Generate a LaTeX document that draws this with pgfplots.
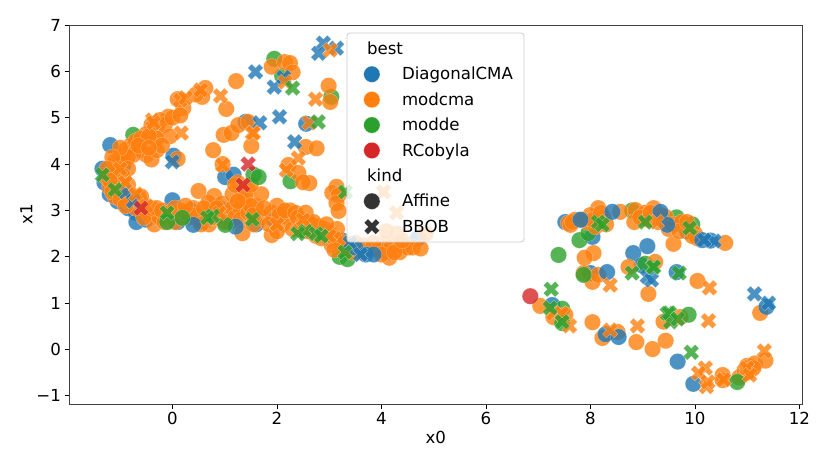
\documentclass[border=0pt]{standalone}
\usepackage{fontspec}
\setmainfont{DejaVu Sans}
\usepackage{pgfplots}
\pgfplotsset{compat=1.18}
\definecolor{tblue}{RGB}{31,119,180}
\definecolor{torange}{RGB}{255,127,14}
\definecolor{tgreen}{RGB}{44,160,44}
\definecolor{tred}{RGB}{214,39,40}
\definecolor{kindgray}{RGB}{51,51,51}
\definecolor{legendframe}{RGB}{204,204,204}

% filled X like the matplotlib marker
\pgfdeclareplotmark{fatx}{%
  \pgfpathmoveto{\pgfqpoint{-.5\pgfplotmarksize}{-1\pgfplotmarksize}}%
  \pgfpathlineto{\pgfqpoint{0pt}{-.5\pgfplotmarksize}}%
  \pgfpathlineto{\pgfqpoint{.5\pgfplotmarksize}{-1\pgfplotmarksize}}%
  \pgfpathlineto{\pgfqpoint{1\pgfplotmarksize}{-.5\pgfplotmarksize}}%
  \pgfpathlineto{\pgfqpoint{.5\pgfplotmarksize}{0pt}}%
  \pgfpathlineto{\pgfqpoint{1\pgfplotmarksize}{.5\pgfplotmarksize}}%
  \pgfpathlineto{\pgfqpoint{.5\pgfplotmarksize}{1\pgfplotmarksize}}%
  \pgfpathlineto{\pgfqpoint{0pt}{.5\pgfplotmarksize}}%
  \pgfpathlineto{\pgfqpoint{-.5\pgfplotmarksize}{1\pgfplotmarksize}}%
  \pgfpathlineto{\pgfqpoint{-1\pgfplotmarksize}{.5\pgfplotmarksize}}%
  \pgfpathlineto{\pgfqpoint{-.5\pgfplotmarksize}{0pt}}%
  \pgfpathlineto{\pgfqpoint{-1\pgfplotmarksize}{-.5\pgfplotmarksize}}%
  \pgfpathclose
  \pgfusepathqfillstroke
}

\pgfplotsset{
  circ/.style={only marks, forget plot, mark=*, mark size=8.2pt,
    mark options={fill=#1, draw=white, line width=0.2pt, fill opacity=0.8, draw opacity=0.6}},
  cross/.style={only marks, forget plot, mark=fatx, mark size=7.8pt,
    mark options={fill=#1, draw=white, line width=0.2pt, fill opacity=0.8, draw opacity=0.6}},
  hcirc/.style={only marks, mark=*, mark size=8.2pt,
    mark options={fill=#1, draw=white, line width=0.2pt, fill opacity=1, draw opacity=1}},
  hcross/.style={only marks, mark=fatx, mark size=7.8pt,
    mark options={fill=#1, draw=white, line width=0.2pt, fill opacity=1, draw opacity=1}},
}
\newcommand{\lab}[1]{\makebox[106pt][l]{#1}}
\newcommand{\sub}[1]{\hspace*{-35pt}\makebox[106pt][l]{#1}}

\begin{document}
\begin{tikzpicture}[x=1pt,y=1pt]
\useasboundingbox (0,0) rectangle (830,467);
\begin{axis}[
  at={(69.5pt,63pt)}, anchor=south west,
  scale only axis, width=732.5pt, height=379pt,
  clip mode=individual,
  xmin=-1.97, xmax=12.05,
  ymin=-1.175, ymax=7.0,
  xtick={0,2,4,6,8,10,12},
  ytick={-1,0,1,2,3,4,5,6,7},
  xticklabels={0,2,4,6,8,10,12},
  yticklabels={−1,0,1,2,3,4,5,6,7},
  tick align=outside, tick pos=left,
  major tick length=5pt,
  every tick/.style={black, line width=0.8pt},
  axis line style={line width=0.8pt, black!75},
  ticklabel style={font=\fontsize{16.6}{19}\selectfont},
  label style={font=\fontsize{16.6}{19}\selectfont},
  xlabel={x0}, ylabel={x1},
  xlabel style={at={(axis description cs:0.5,-0.062)},anchor=north},
  ylabel style={at={(axis description cs:-0.046,0.5)},anchor=south},
  legend cell align=left,
  legend style={
    at={(0.379,0.979)}, anchor=north west,
    draw=none, fill=none,
    font=\fontsize{16.6}{19}\selectfont,
    inner xsep=16pt, inner ysep=3pt, row sep=0pt,
    nodes={inner sep=0pt, minimum height=25.4pt, anchor=west},
    /tikz/every odd column/.append style={column sep=22pt},
  },
]

% Affine DiagonalCMA, under the rest
\addplot[circ=tblue] coordinates {
(-1.19,4.41)(-1.34,3.9)(-0.94,3.98)(-1.3,3.6)(-1.2,3.35)(-1.05,3.2)(-0.85,3.05)(-0.7,2.95)(-0.69,2.75)(-0.5,2.8)
(0.0,3.22)(0.02,4.18)(0.1,2.75)(0.35,3.0)(0.6,2.75)(0.9,3.05)(1.01,3.72)(1.17,3.77)
(1.4,4.91)(1.6,2.7)(1.95,2.8)(2.56,4.87)(2.6,2.75)(3.0,2.4)(3.25,2.35)(4.1,2.1)(4.4,2.25)(4.7,2.4)
(7.52,2.75)(8.04,2.43)(8.0,1.65)(9.09,2.23)(8.82,2.08)(8.98,1.82)
(7.27,0.96)(9.65,1.67)(9.67,-0.26)(9.97,-0.74)(9.2,2.85)(9.85,2.55)
};
% Affine modde, under the rest
\addplot[circ=tgreen] coordinates {
(1.95,6.27)(-0.75,4.63)(-1.05,3.8)(3.04,5.45)(2.26,3.63)(2.1,5.9)
(2.65,2.55)(3.2,2.0)(3.35,1.95)
(7.79,2.36)(7.96,2.51)(8.8,3.0)(9.05,1.85)(7.46,0.88)(9.65,2.85)(9.95,2.7)
};
% Affine modcma
\addplot[circ=torange] coordinates {
(1.22,5.79)(0.63,5.64)(0.1,5.4)(0.21,5.21)(0.57,5.45)(1.03,5.19)(-0.08,5.02)(-0.23,4.95)(-0.29,4.74)(0.98,4.63)
(1.13,4.67)(1.26,4.84)(1.45,4.91)(0.78,4.3)(1.51,4.39)(0.96,4.0)(0.1,4.11)
(-0.15,4.85)(-0.05,4.6)(-0.4,4.85)(-0.5,4.65)(0.0,5.0)(0.15,5.05)(0.45,5.5)
(-1.1,4.05)(-1.0,4.15)(-0.9,4.3)(-0.8,4.4)(-0.7,4.5)(-0.6,4.55)(-0.6,4.3)(-0.5,4.2)(-0.4,4.1)(-0.3,4.3)(-0.3,4.55)(-0.45,4.6)(-0.75,4.2)(-0.95,4.1)
(-0.85,4.15)(-0.65,4.4)(-0.2,4.4)(-0.45,4.35)(-1.0,4.35)(-1.15,4.15)(-0.85,3.9)(-0.95,3.75)
(-1.15,3.85)(-1.25,3.7)(-1.1,3.65)(-1.2,3.5)(-1.05,3.45)(-1.1,3.3)(-0.95,3.3)(-1.0,3.55)(-0.85,3.2)(-0.75,3.2)(-0.7,3.05)(-0.6,3.15)(-0.5,3.0)(-0.45,2.9)(-0.35,2.7)(-0.25,2.85)
(-1.25,3.9)(-1.2,3.65)(-1.15,3.4)(-1.0,3.25)(-0.9,3.4)(-0.85,3.55)(-0.8,3.35)(-0.65,3.3)(-0.55,2.85)(-0.4,3.05)(-0.3,3.05)(-0.15,2.75)(-0.6,3.3)(-0.9,3.1)
(-0.2,3.0)(-0.05,2.95)(0.05,2.75)(0.15,3.0)(0.3,2.85)(0.4,3.05)(0.5,2.8)(0.5,3.42)(0.65,2.95)(0.7,2.7)(0.8,3.31)(0.69,3.18)(0.85,2.85)(0.95,3.15)(1.05,2.95)(1.1,2.75)
(0.05,3.05)(0.25,2.95)(0.45,2.9)(0.6,3.05)(0.75,2.85)(0.85,3.05)(1.0,2.75)(1.15,3.05)(1.2,2.85)(0.55,2.7)(0.25,3.1)
(1.15,3.35)(1.25,3.6)(1.35,3.2)(1.44,3.45)(1.3,3.05)(1.3,2.8)(1.34,2.51)(1.45,2.95)(1.55,2.7)(1.6,3.1)(1.7,3.35)(1.7,2.85)(1.9,2.47)(1.9,2.95)(2.0,3.1)(2.1,2.7)(2.2,2.85)(2.25,3.0)(2.3,2.6)
(1.2,3.55)(1.4,3.3)(1.5,3.1)(1.55,2.9)(1.75,3.05)(1.85,2.7)(2.05,2.9)(2.15,3.0)(2.35,2.95)(2.0,2.55)(1.25,3.2)(1.5,3.55)
(2.4,2.85)(2.5,2.7)(2.55,2.95)(2.65,2.7)(2.75,2.45)(2.8,2.65)(2.9,2.6)(3.0,2.5)(3.05,2.25)(3.15,2.6)(3.2,2.3)(3.35,2.2)(3.45,2.1)(3.6,2.1)(3.75,2.2)(3.95,2.15)(4.05,2.3)(4.15,1.98)(4.2,2.25)(4.35,2.1)(4.5,2.2)(4.6,2.2)(4.75,2.18)(4.3,2.5)(4.1,2.55)(4.85,2.5)
(2.45,2.6)(2.6,2.55)(2.7,2.75)(2.85,2.4)(2.95,2.7)(3.1,2.4)(3.3,2.3)(3.1,2.15)(3.5,2.3)(3.65,2.25)(3.85,2.3)(4.0,2.05)(4.25,2.1)(4.4,2.35)
(1.9,6.1)(2.15,6.2)(2.25,6.18)(2.3,5.98)(2.99,5.69)(3.02,5.34)(2.55,4.37)(2.76,4.34)(2.22,3.98)(2.41,3.81)(2.62,3.59)(2.5,3.61)(3.14,3.51)(3.06,3.38)(3.18,3.33)(3.14,3.16)(3.18,2.99)
(7.58,2.73)(7.71,2.8)(7.62,2.69)(7.94,2.75)(8.15,3.05)(8.0,2.9)(8.57,2.97)(8.86,3.01)(8.84,2.75)(9.21,3.05)(9.05,2.95)(9.44,2.86)(8.25,2.85)(9.3,2.75)(9.6,2.7)(9.75,2.75)(9.9,2.6)(10.0,2.5)(10.05,2.4)(9.59,2.28)(10.58,2.3)
(7.66,2.75)(7.85,2.8)(8.1,2.65)(8.05,2.8)(8.2,2.95)(8.3,2.7)(8.95,2.85)(9.1,2.8)(9.15,2.95)(9.35,2.9)(9.5,2.6)(9.7,2.55)(9.85,2.75)(9.95,2.45)
(8.06,2.08)(7.89,1.98)(7.87,1.65)(8.04,1.46)(8.15,1.61)(8.73,1.78)(9.24,1.89)(9.11,1.2)
(7.04,0.94)(7.52,0.75)(7.29,0.7)(8.04,0.59)(8.23,0.25)(8.52,0.38)(8.88,0.16)(9.19,0.01)(9.44,0.19)(9.4,0.6)(9.72,0.7)(10.05,1.48)(11.25,0.79)
(10.53,-0.55)(10.53,-0.66)(10.85,-0.6)(10.95,-0.45)(11.0,-0.35)(11.06,-0.37)(11.15,-0.3)(11.35,-0.24)(11.05,-0.45)(11.12,-0.4)(11.0,-0.5)
};
% Affine DiagonalCMA and modde that lie on top of orange
\addplot[circ=tblue] coordinates {
(0.4,2.69)(1.21,2.65)(3.5,2.2)(3.7,2.05)(3.85,2.05)(7.81,2.8)(8.42,2.97)(9.34,2.97)(9.47,2.69)(8.32,1.67)(8.29,0.33)(8.54,0.27)(10.14,2.36)(10.3,2.35)(11.37,0.92)
};
\addplot[circ=tgreen] coordinates {
(-0.1,2.75)(0.19,2.84)(1.01,2.69)(1.55,3.77)(1.65,3.72)(7.39,2.04)(7.87,1.61)(7.46,0.57)(9.88,0.75)(10.81,-0.7)
};
% Affine RCobyla
\addplot[circ=tred] coordinates {(6.85,1.15)};

% BBOB DiagonalCMA
\addplot[cross=tblue] coordinates {
(2.89,6.61)(2.8,6.39)(3.14,6.5)(1.59,5.99)(1.95,5.66)(2.13,5.87)(2.05,5.02)(1.67,4.89)(2.34,4.48)(0.0,4.05)
(-0.9,3.4)(-0.75,3.2)(9.09,1.57)(9.17,1.5)(10.37,2.34)(10.18,2.36)(11.14,1.2)(11.41,1.0)(3.4,2.3)(3.6,2.05)
};
% BBOB modcma
\addplot[cross=torange] coordinates {
(0.92,5.47)(0.54,5.6)(0.15,5.38)(0.25,5.43)(0.17,4.67)(-0.38,4.95)(-0.36,4.89)(1.53,4.67)(1.55,4.67)(3.02,6.46)(2.16,5.77)(2.74,5.4)(2.62,4.89)
(2.41,4.13)(2.18,3.87)(4.04,3.4)(4.29,2.95)(-1.0,3.9)(-0.9,3.6)(-0.7,3.35)(-0.5,3.1)(0.9,2.95)(2.0,2.7)(2.5,2.8)(3.0,2.45)(0.96,3.98)
(9.27,2.75)(8.38,1.39)(7.29,0.78)(7.45,0.78)(7.6,0.51)(8.38,0.42)(8.9,0.51)(10.28,1.33)(10.26,0.62)(11.33,-0.03)(10.2,-0.4)(10.07,-0.51)(10.22,-0.8)(10.25,-0.7)(10.55,-0.65)(11.0,-0.4)(11.05,-0.55)
};
% BBOB modde
\addplot[cross=tgreen] coordinates {
(2.3,5.64)(2.79,4.91)(-1.34,3.77)(-1.1,3.45)(-0.1,2.95)(0.77,2.88)(0.67,2.84)(1.53,2.81)(3.31,3.4)(2.55,2.55)(2.75,2.5)(2.85,2.45)(3.3,2.1)(2.4,2.5)
(8.15,2.75)(8.23,2.69)(9.05,2.75)(7.25,1.3)(8.8,1.65)(9.19,1.78)(9.21,1.78)(7.23,0.9)(7.46,0.6)(9.47,0.78)(9.53,0.6)(9.51,0.79)(9.67,0.66)(9.7,1.65)(9.9,2.62)(9.93,-0.06)
};
% BBOB RCobyla
\addplot[cross=tred] coordinates {(1.45,4.0)(1.35,3.55)(-0.6,3.05)};

% legend backing, drawn above the points and below the entries
\path[fill=white, fill opacity=0.8, draw=legendframe, line width=0.8pt, rounded corners=3pt]
  (rel axis cs:0.3788,0.4274) rectangle (rel axis cs:0.6205,0.9789);

\addlegendimage{empty legend}
\addlegendentry{\sub{best}}
\addlegendimage{hcirc=tblue}
\addlegendentry{\lab{DiagonalCMA}}
\addlegendimage{hcirc=torange}
\addlegendentry{\lab{modcma}}
\addlegendimage{hcirc=tgreen}
\addlegendentry{\lab{modde}}
\addlegendimage{hcirc=tred}
\addlegendentry{\lab{RCobyla}}
\addlegendimage{empty legend}
\addlegendentry{\sub{kind}}
\addlegendimage{hcirc=kindgray}
\addlegendentry{\lab{Affine}}
\addlegendimage{hcross=kindgray}
\addlegendentry{\lab{BBOB}}
\end{axis}
\end{tikzpicture}
\end{document}
